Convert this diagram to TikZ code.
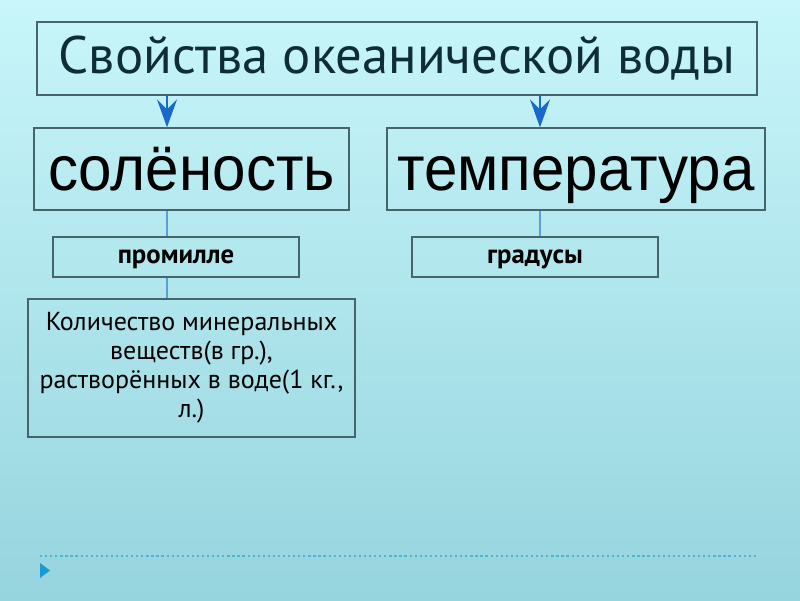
\documentclass[tikz,border=0pt]{standalone}
\usepackage{fontspec}
\setmainfont{PT Sans}
\newfontfamily\arialfont[FakeStretch=0.95]{Liberation Sans}
\usetikzlibrary{arrows.meta, positioning, calc}
\definecolor{bgtop}{RGB}{200,246,250}
\definecolor{bgbot}{RGB}{150,212,222}
\definecolor{rahmen}{RGB}{70,100,105}
\definecolor{pfeil}{RGB}{25,105,200}
\definecolor{linie}{RGB}{90,160,215}
\definecolor{titel}{RGB}{15,45,55}
\definecolor{punkt}{RGB}{75,180,216}
\definecolor{dreieck}{RGB}{26,154,208}

\begin{document}
\begin{tikzpicture}[
		x=0.025cm, y=-0.025cm,
		box/.style={draw=rahmen, line width=0.9pt, inner sep=2pt, align=center},
		gross/.style={box, minimum height=2.05cm, text height=30pt, text depth=0pt,
			font=\arialfont\fontsize{45}{52}\selectfont},
		klein/.style={box, minimum width=6.15cm, minimum height=1.0cm,
			text height=9pt, text depth=0pt, font=\bfseries\fontsize{19}{22}\selectfont},
		arr/.style={pfeil, line width=2pt, -{Stealth[length=0.7cm, width=0.5cm, inset=0.25cm]}},
		ln/.style={linie, line width=0.8pt}
		]
		\useasboundingbox[top color=bgtop, bottom color=bgbot] (0,0) rectangle (800,600);
		
		\node[box, minimum width=18cm, minimum height=1.825cm, text=titel,
			font=\fontsize{37.5}{44}\selectfont] (title) at (397,58.5) {Свойства океанической воды};
		\node[gross, minimum width=7.875cm] (salt) at (191.5,169) {солёность};
		\node[gross, minimum width=9.45cm]  (temp) at (576,169)   {температура};
		\node[klein] (prom) at (176,257) {промилле};
		\node[klein] (grad) at (535,257) {градусы};
		\node[box, minimum width=8.175cm, minimum height=3.45cm,
			font=\fontsize{18.5}{20.6}\selectfont] (desc) at (191.5,368)
			{Количество минеральных\\ веществ(в гр.),\\ растворённых в воде(1 кг.,\\ л.)};
		
		\coordinate (lc) at (167,0);
		\coordinate (rc) at (540,0);
		\draw[arr] (title.south -| lc) -- (salt.north -| lc);
		\draw[arr] (title.south -| rc) -- (temp.north -| rc);
		\draw[ln] (salt.south -| lc) -- (prom.north -| lc);
		\draw[ln] (prom.south -| lc) -- (desc.north -| lc);
		\draw[ln] (temp.south -| rc) -- (grad.north -| rc);
		
		% footer
		\coordinate (fa) at (40,556);
		\coordinate (fb) at (757,556);
		\draw[punkt, line width=1.6pt, dotted] (fa) -- (fb);
		\fill[dreieck] (40,563) -- (50,570.5) -- (40,578) -- cycle;
	\end{tikzpicture}
\end{document}
